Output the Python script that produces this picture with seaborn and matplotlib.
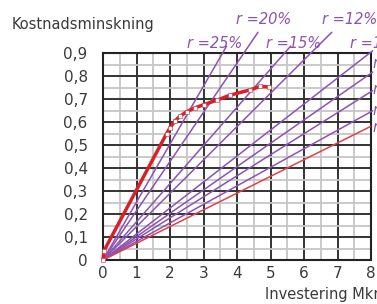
import numpy as np
import pandas as pd
import seaborn as sns
import matplotlib.pyplot as plt
from matplotlib.ticker import MultipleLocator, FuncFormatter

# Räntelinjer (lutning = årlig kostnadsminskning per Mkr investering)
rate_labels = ["25%", "20%", "15%", "12%", "10%", "8%", "6%", "4%"]
rate_slopes = [0.252, 0.214, 0.166, 0.145, 0.113, 0.1015, 0.0915, 0.0806]
rate_tops = [0.93, 0.99, 0.93, 0.99, 0.93, 0.93, 0.93, 0.93]
zero_label = "0%"
zero_slope = 0.0727

# Kostnadsminskning som funktion av investering
inv_x = [0, 0.03, 1.9, 2.0, 2.15, 2.3, 2.5, 2.75, 3.0, 3.4, 3.8, 4.4, 4.7, 4.95]
inv_y = [0, 0.04, 0.55, 0.575, 0.605, 0.625, 0.645, 0.662, 0.675, 0.695, 0.717, 0.74, 0.755, 0.752]

purple = "#8c52b4"
red_thin = "#e0404a"
red_thick = "#d8202a"
text_col = "#3a3a3a"

sns.set_style("white")
fig = plt.figure(figsize=(3.77, 3.04), dpi=100)
ax = fig.add_axes([103 / 377, 1 - 260 / 304, 268 / 377, 207 / 304])

ax.set_xlim(0, 8)
ax.set_ylim(0, 0.9)
ax.xaxis.set_major_locator(MultipleLocator(1))
ax.xaxis.set_minor_locator(MultipleLocator(0.5))
ax.yaxis.set_major_locator(MultipleLocator(0.1))
ax.yaxis.set_minor_locator(MultipleLocator(0.05))
ax.grid(which="minor", color="#c6c6c6", lw=1.3)
ax.grid(which="major", color="#333333", lw=1.4)
ax.set_axisbelow(True)
for s in ax.spines.values():
    s.set_color("#222222")
    s.set_linewidth(1.5)

ax.yaxis.set_major_formatter(FuncFormatter(
    lambda v, p: "0" if abs(v) < 1e-9 else f"{v:.1f}".replace(".", ",")))
ax.tick_params(axis="both", which="both", length=0, labelsize=11,
               labelcolor=text_col)
ax.tick_params(axis="y", pad=11)
ax.tick_params(axis="x", pad=4)

# räntelinjer
for lab, k, top in zip(rate_labels, rate_slopes, rate_tops):
    xe = min(8.05, top / k)
    sns.lineplot(x=[0, xe], y=[0, k * xe], ax=ax, color=purple, lw=1.1,
                 clip_on=False, zorder=3)
xe = 8
sns.lineplot(x=[0, xe], y=[0, zero_slope * xe], ax=ax, color=red_thin, lw=1.1,
             zorder=3)

sns.lineplot(x=inv_x, y=inv_y, ax=ax, color=red_thick, lw=2.5, marker="s",
             markersize=2.2, markerfacecolor="white", markeredgecolor=red_thick,
             markeredgewidth=0.4, clip_on=False, zorder=5)

# etiketter
lab_style = dict(color=purple, fontsize=10.5, style="italic", clip_on=False)
fig.text(215 / 377, 1 - 43 / 304, "r =25%", ha="center", va="center", **lab_style)
fig.text(264 / 377, 1 - 20 / 304, "r =20%", ha="center", va="center", **lab_style)
fig.text(294 / 377, 1 - 43 / 304, "r =15%", ha="center", va="center", **lab_style)
fig.text(350 / 377, 1 - 20 / 304, "r =12%", ha="center", va="center", **lab_style)
fig.text(350 / 377, 1 - 43 / 304, "r =10%", ha="left", va="center", **lab_style)
for lab, yy in zip(["8%", "6%", "4%", zero_label], [63, 90, 110, 127]):
    fig.text(373 / 377, 1 - yy / 304, "r =" + lab, ha="left", va="center",
             **lab_style)

ax.set_xlabel("")
ax.set_ylabel("")
fig.text(12 / 377, 1 - 25 / 304, "Kostnadsminskning", fontsize=10.5,
         color=text_col, va="center", ha="left")
fig.text(265 / 377, 1 - 294 / 304, "Investering Mkr", fontsize=10.5,
         color=text_col, va="center", ha="left")

fig.savefig("out.png", dpi=100)
